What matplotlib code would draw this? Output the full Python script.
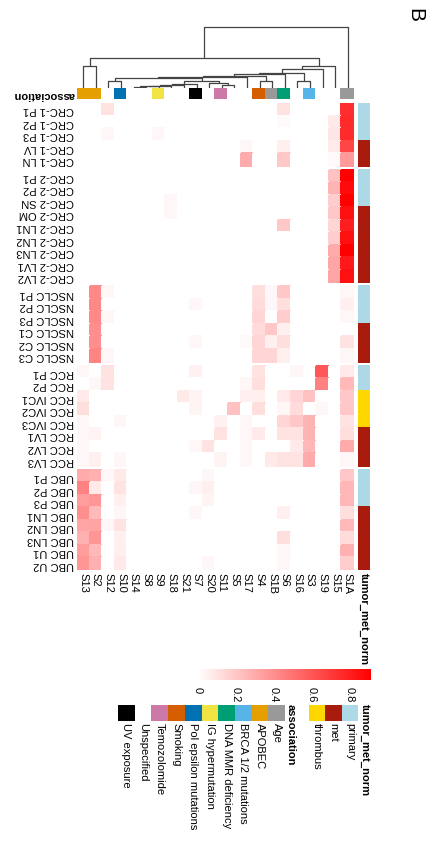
import numpy as np
import matplotlib
matplotlib.use('Agg')
import matplotlib.pyplot as plt
from matplotlib.colors import LinearSegmentedColormap, ListedColormap

plt.rcParams['font.family'] = ['Liberation Sans', 'DejaVu Sans']

###############################################################################
# Data

signatures = ['S13', 'S2', 'S12', 'S10', 'S14', 'S8', 'S9', 'S18', 'S21', 'S7',
              'S20', 'S11', 'S5', 'S17', 'S4', 'S1B', 'S6', 'S16', 'S3', 'S19',
              'S15', 'S1A']

sig_association = ['APOBEC', 'APOBEC', 'Unspecified', 'Pol epsilon mutations',
                   'Unspecified', 'Unspecified', 'IG hypermutation',
                   'Unspecified', 'Unspecified', 'UV exposure', 'Unspecified',
                   'Temozolomide', 'Unspecified', 'Unspecified', 'Smoking',
                   'Age', 'DNA MMR deficiency', 'Unspecified',
                   'BRCA 1/2 mutations', 'Unspecified', 'Unspecified', 'Age']

assoc_names = ['Age', 'APOBEC', 'BRCA 1/2 mutations', 'DNA MMR deficiency',
               'IG hypermutation', 'Pol epsilon mutations', 'Smoking',
               'Temozolomide', 'Unspecified', 'UV exposure']
assoc_colors = ['#999999', '#E69F00', '#56B4E9', '#009E73', '#F0E442',
                '#0072B2', '#D55E00', '#CC79A7', '#FFFFFF', '#000000']

tumor_names = ['primary', 'met', 'thrombus']
tumor_colors = ['#ADD8E6', '#A91B0D', '#FFD700']

crc1_samples = ['CRC-1 P1', 'CRC-1 P2', 'CRC-1 P3', 'CRC-1 LV', 'CRC-1 LN']
crc2_samples = ['CRC-2 P1', 'CRC-2 P2', 'CRC-2 SN', 'CRC-2 OM', 'CRC-2 LN1',
                'CRC-2 LN2', 'CRC-2 LN3', 'CRC-2 LV1', 'CRC-2 LV2']
nsclc_samples = ['NSCLC P1', 'NSCLC P2', 'NSCLC P3', 'NSCLC C1', 'NSCLC C2',
                 'NSCLC C3']
rcc_samples = ['RCC P1', 'RCC P2', 'RCC IVC1', 'RCC IVC2', 'RCC IVC3',
               'RCC LV1', 'RCC LV2', 'RCC LV3']
ubc_samples = ['UBC P1', 'UBC P2', 'UBC P3', 'UBC LN1', 'UBC LN2', 'UBC LN3',
               'UBC U1', 'UBC U2']

crc1_tumor = ['primary', 'primary', 'primary', 'met', 'met']
crc2_tumor = ['primary', 'primary', 'primary', 'met', 'met', 'met', 'met',
              'met', 'met']
nsclc_tumor = ['primary', 'primary', 'primary', 'met', 'met', 'met']
rcc_tumor = ['primary', 'primary', 'thrombus', 'thrombus', 'thrombus', 'met',
             'met', 'met']
ubc_tumor = ['primary', 'primary', 'primary', 'met', 'met', 'met', 'met', 'met']

# columns follow `signatures`
crc1_exposure = [
    [0, 0, .10, 0, 0, 0, 0, 0, 0, 0, 0, 0, 0, 0, 0, 0, .10, 0, 0, 0, 0, .75],
    [0, 0, 0, 0, 0, 0, 0, 0, 0, 0, 0, 0, 0, 0, 0, 0, .02, 0, 0, 0, .08, .76],
    [0, 0, .03, 0, 0, 0, .03, 0, 0, 0, 0, 0, 0, 0, 0, 0, 0, 0, 0, 0, .09, .76],
    [0, 0, 0, 0, 0, 0, 0, 0, 0, 0, 0, 0, 0, .03, 0, 0, .06, 0, 0, 0, .08, .66],
    [0, 0, 0, 0, 0, 0, 0, 0, 0, 0, 0, 0, 0, .30, 0, 0, .20, 0, 0, 0, .02, .36],
]
crc2_exposure = [
    [0, 0, 0, 0, 0, 0, 0, 0, 0, 0, 0, 0, 0, 0, 0, 0, 0, 0, 0, 0, .22, .91],
    [0, 0, 0, 0, 0, 0, 0, 0, 0, 0, 0, 0, 0, 0, 0, 0, 0, 0, 0, 0, .27, .87],
    [0, 0, 0, 0, 0, 0, 0, .03, 0, 0, 0, 0, 0, 0, 0, 0, 0, 0, 0, 0, .18, .91],
    [0, 0, 0, 0, 0, 0, 0, .03, 0, 0, 0, 0, 0, 0, 0, 0, 0, 0, 0, 0, .20, .85],
    [0, 0, 0, 0, 0, 0, 0, 0, 0, 0, 0, 0, 0, 0, 0, 0, .20, 0, 0, 0, .15, .80],
    [0, 0, 0, 0, 0, 0, 0, 0, 0, 0, 0, 0, 0, 0, 0, 0, 0, 0, 0, 0, .18, .85],
    [0, 0, 0, 0, 0, 0, 0, 0, 0, 0, 0, 0, 0, 0, 0, 0, 0, 0, 0, 0, .30, .91],
    [0, 0, 0, 0, 0, 0, 0, 0, 0, 0, 0, 0, 0, 0, 0, 0, 0, 0, 0, 0, .32, .82],
    [0, 0, 0, 0, 0, 0, 0, 0, 0, 0, 0, 0, 0, 0, 0, 0, 0, 0, 0, 0, .32, .85],
]
nsclc_exposure = [
    [0, .42, .03, 0, 0, 0, 0, 0, 0, 0, 0, 0, 0, 0, .12, .03, .20, 0, 0, 0, 0, .03],
    [0, .42, 0, 0, 0, 0, 0, 0, 0, .03, 0, 0, 0, 0, .13, .03, .12, 0, 0, 0, 0, .06],
    [0, .42, .03, 0, 0, 0, 0, 0, 0, 0, 0, 0, 0, 0, .15, 0, .18, 0, 0, 0, 0, .03],
    [0, .40, 0, 0, 0, 0, 0, 0, 0, 0, 0, 0, 0, 0, .13, .20, .06, 0, 0, 0, 0, 0],
    [0, .40, 0, 0, 0, 0, 0, 0, 0, .03, 0, 0, 0, .02, .15, .06, .12, 0, 0, 0, 0, .10],
    [0, .44, .03, 0, 0, 0, 0, 0, 0, 0, 0, 0, 0, 0, .15, .15, .06, 0, 0, 0, 0, .03],
]
rcc_exposure = [
    [.03, 0, .10, 0, 0, 0, 0, 0, 0, .05, 0, 0, 0, 0, .10, 0, 0, .03, 0, .60, 0, .08],
    [0, .03, .10, 0, 0, 0, 0, 0, 0, 0, 0, 0, 0, .03, .12, 0, 0, 0, 0, .45, 0, .25],
    [.08, 0, 0, 0, 0, 0, 0, 0, .08, .04, 0, 0, 0, .06, .06, 0, .08, .15, .22, 0, 0, .20],
    [.12, 0, 0, 0, 0, 0, 0, 0, 0, .04, 0, 0, .22, 0, .12, 0, .03, .13, 0, .03, 0, .20],
    [.03, 0, 0, .03, 0, 0, 0, 0, 0, 0, 0, .05, 0, .03, 0, 0, .15, .20, .27, 0, 0, .10],
    [.03, .04, 0, 0, 0, 0, 0, 0, 0, 0, 0, .10, 0, .03, .08, 0, .10, .10, .27, 0, 0, .12],
    [.03, 0, 0, 0, 0, 0, 0, 0, 0, .03, .10, 0, 0, .03, 0, 0, 0, .08, .26, 0, 0, .30],
    [.03, .06, 0, .03, 0, 0, 0, 0, 0, 0, 0, .04, 0, .03, 0, .08, .10, .10, .30, 0, 0, .03],
]
ubc_exposure = [
    [.30, .28, .03, .08, 0, 0, 0, 0, 0, 0, .03, 0, 0, 0, 0, 0, 0, 0, 0, 0, 0, .20],
    [.45, .08, 0, .10, 0, 0, 0, 0, 0, .03, .06, 0, 0, 0, 0, 0, 0, 0, 0, 0, 0, .26],
    [.35, .38, 0, .06, 0, 0, 0, 0, 0, 0, .04, 0, 0, 0, 0, 0, 0, 0, 0, 0, 0, .26],
    [.40, .25, 0, .03, 0, 0, 0, 0, 0, .03, 0, 0, 0, 0, 0, 0, .06, 0, 0, 0, 0, .12],
    [.32, .33, .03, .10, 0, 0, 0, 0, 0, 0, 0, 0, 0, 0, 0, 0, 0, 0, 0, 0, 0, .25],
    [.28, .38, 0, .06, 0, 0, 0, 0, 0, 0, 0, 0, 0, 0, 0, 0, .12, 0, 0, 0, 0, .13],
    [.35, .25, 0, .06, 0, 0, 0, 0, 0, 0, 0, 0, 0, 0, 0, 0, .03, 0, 0, 0, 0, .28],
    [.38, .28, 0, .08, 0, 0, 0, 0, 0, 0, .03, 0, 0, 0, 0, 0, .03, 0, 0, 0, 0, .18],
]

# column clustering: (node, left, right, height)
merges = [
    ('a', 'S13', 'S2', 22), ('b', 'S12', 'S10', 7),
    ('c1', 'S14', 'S8', 1.2), ('c2', 'c1', 'S9', 1.8), ('c3', 'c2', 'S18', 2.4),
    ('c4', 'c3', 'S21', 3.0), ('c5', 'c4', 'S7', 4.0), ('c6', 'S11', 'S5', 3.2),
    ('c7', 'S20', 'c6', 4.6), ('c8', 'c5', 'c7', 6.5), ('d1', 'b', 'c8', 9.7),
    ('d2', 'd1', 'S17', 11.3), ('e', 'S4', 'S1B', 7.3), ('d3', 'd2', 'e', 12.0),
    ('d4', 'd3', 'S6', 13.5), ('f', 'S16', 'S3', 7.3), ('d5', 'd4', 'f', 14.7),
    ('d6', 'd5', 'S19', 18.7), ('d7', 'd6', 'S15', 22), ('g', 'a', 'd7', 30),
    ('root', 'g', 'S1A', 61),
]

groups = [(crc1_samples, crc1_tumor, crc1_exposure),
          (crc2_samples, crc2_tumor, crc2_exposure),
          (nsclc_samples, nsclc_tumor, nsclc_exposure),
          (rcc_samples, rcc_tumor, rcc_exposure),
          (ubc_samples, ubc_tumor, ubc_exposure)]

###############################################################################
# Plot

W, H = 434, 846
fig = plt.figure(figsize=(W / 100, H / 100), dpi=100)


def px_axes(x0, y0, x1, y1):
    return fig.add_axes([x0 / W, 1 - y1 / H, (x1 - x0) / W, (y1 - y0) / H])


def clean(ax):
    for s in ax.spines.values():
        s.set_visible(False)
    ax.tick_params(length=0)


heat_cmap = LinearSegmentedColormap.from_list('wr', ['#FFFFFF', '#FF0000'])
vmax = 0.91
gap = 0.32
nsig = len(signatures)
total = sum(len(g[0]) for g in groups) + gap * (len(groups) - 1)

ax = px_axes(77, 103, 354, 570)
ann = px_axes(358, 103, 370, 570)
tumor_cmap = ListedColormap(tumor_colors)

centers, labels = [], []
y0 = 0
for samples, tumor, expo in groups:
    n = len(samples)
    yedges = y0 + np.arange(n + 1)
    ax.pcolormesh(np.arange(nsig + 1), yedges, np.array(expo), cmap=heat_cmap,
                  vmin=0, vmax=vmax, edgecolors='face', linewidth=0.1)
    codes = np.array([[tumor_names.index(t)] for t in tumor])
    ann.pcolormesh([0, 1], yedges, codes, cmap=tumor_cmap, vmin=-0.5,
                   vmax=len(tumor_names) - 0.5, edgecolors='face',
                   linewidth=0.1)
    centers += list(yedges[:-1] + 0.5)
    labels += samples
    y0 += n + gap

for a in (ax, ann):
    a.set_ylim(total, 0)
    clean(a)
ax.set_xlim(0, nsig)
ax.set_yticks(centers, labels, rotation=180, fontsize=8)
ax.set_xticks(np.arange(nsig) + 0.5, signatures, rotation=-90, fontsize=8)
ax.tick_params(pad=2)
ann.set_xlim(0, 1)
ann.set_yticks([])
ann.set_xticks([0.5], ['tumor_met_norm'], rotation=-90, fontsize=8,
               fontweight='bold')
ann.tick_params(pad=2)

# association row
assoc_ax = px_axes(77, 88, 354, 99)
assoc_cmap = ListedColormap(assoc_colors)
codes = np.array([[assoc_names.index(s) for s in sig_association]])
assoc_ax.pcolormesh(np.arange(nsig + 1), [0, 1], codes, cmap=assoc_cmap,
                    vmin=-0.5, vmax=len(assoc_names) - 0.5, edgecolors='face',
                    linewidth=0.1)
assoc_ax.set_xlim(0, nsig)
clean(assoc_ax)
assoc_ax.set_xticks([])
assoc_ax.set_yticks([0.5], ['association'], rotation=180, fontsize=8,
                    fontweight='bold')
assoc_ax.tick_params(pad=2)

# dendrogram
dax = px_axes(77, 24, 354, 88)
pos = {s: i + 0.5 for i, s in enumerate(signatures)}
hts = {s: 0.0 for s in signatures}
for node, left, right, h in merges:
    dax.plot([pos[left], pos[left], pos[right], pos[right]],
             [hts[left], h, h, hts[right]], color='#444444', lw=0.9,
             solid_capstyle='butt')
    pos[node] = (pos[left] + pos[right]) / 2
    hts[node] = h
dax.set_xlim(0, nsig)
dax.set_ylim(0, 64)
dax.axis('off')

# colour bar
cax = px_axes(198, 669, 371, 680)
grad = np.linspace(0, vmax, 256)[None, :]
cax.imshow(grad, cmap=heat_cmap, vmin=0, vmax=vmax, aspect='auto',
           extent=(0, vmax, 0, 1))
cax.set_xlim(0, vmax)
clean(cax)
cax.set_yticks([])
cax.set_xticks([0, 0.2, 0.4, 0.6, 0.8], ['0', '0.2', '0.4', '0.6', '0.8'],
               rotation=-90, fontsize=8)
cax.tick_params(pad=5)

# tumor_met_norm legend
tl = px_axes(309, 705, 358, 721)
tl.pcolormesh(np.arange(len(tumor_names) + 1), [0, 1],
              np.arange(len(tumor_names))[None, :], cmap=tumor_cmap,
              vmin=-0.5, vmax=len(tumor_names) - 0.5)
tl.set_xlim(len(tumor_names), 0)
clean(tl)
tl.set_yticks([])
tl.set_xticks(np.arange(len(tumor_names)) + 0.5, tumor_names, rotation=-90,
              fontsize=8)
tl.tick_params(pad=1.5)
fig.text(365 / W, 1 - 704 / H, 'tumor_met_norm', rotation=-90, fontsize=8,
         fontweight='bold', ha='center', va='top')

# association legend
al = px_axes(118, 705, 285, 721)
al.pcolormesh(np.arange(len(assoc_names) + 1), [0, 1],
              np.arange(len(assoc_names))[None, :], cmap=assoc_cmap,
              vmin=-0.5, vmax=len(assoc_names) - 0.5)
al.set_xlim(len(assoc_names), 0)
clean(al)
al.set_yticks([])
al.set_xticks(np.arange(len(assoc_names)) + 0.5, assoc_names, rotation=-90,
              fontsize=8)
al.tick_params(pad=1.5)
fig.text(291 / W, 1 - 704 / H, 'association', rotation=-90, fontsize=8,
         fontweight='bold', ha='center', va='top')

fig.text(415 / W, 1 - 8 / H, 'B', rotation=-90, fontsize=15,
         ha='center', va='top')

fig.savefig('out.png', dpi=100)
